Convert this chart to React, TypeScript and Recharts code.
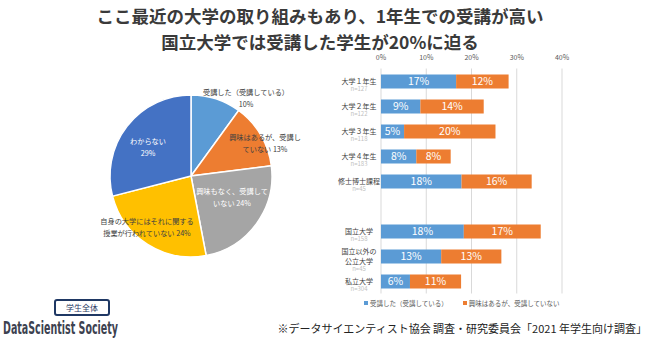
import { Bar, BarChart, CartesianGrid, Cell, LabelList, Pie, PieChart, XAxis, YAxis } from 'recharts';

const FONT = '"Noto Sans CJK JP", "Noto Sans", sans-serif';

// pie: all students
const pieNames = [
  '受講した（受講している）\n',
  '興味はあるが、受講し\nていない ',
  '興味もなく、受講して\nいない ',
  '自身の大学にはそれに関する\n授業が行われていない ',
  'わからない\n',
];
const pieValues = [10, 13, 24, 24, 29];
const pieColors = ['#5B9BD5', '#ED7D31', '#A5A5A5', '#FFC000', '#4472C4'];

// bars: by year / by university type
const barCats = ['大学１年生', '大学２年生', '大学３年生', '大学４年生', '修士博士課程', '', '国立大学', '国立以外の\n公立大学', '私立大学'];
const barN = ['n=127', 'n=122', 'n=118', 'n=183', 'n=45', '', 'n=158', 'n=45', 'n=304'];
const taken = [16.6, 8.7, 5.1, 7.8, 17.8, null, 18.3, 13.3, 6.4];
const interested = [11.6, 14.0, 20.2, 7.6, 15.5, null, 17.0, 13.3, 11.3];
const xTicks = [0, 10, 20, 30, 40];

const pieData = pieNames.map((name, i) => ({ name, value: pieValues[i] }));
const barData = barCats.map((name, i) => ({ name, n: barN[i], taken: taken[i], interested: interested[i] }));

// label offsets from pie center, per slice
const labelPos = [
  { dx: 55, dy: -84, fill: '#404040' },
  { dx: 74, dy: -39, fill: '#404040' },
  { dx: 41, dy: 15, fill: '#ffffff' },
  { dx: -44, dy: 45, fill: '#404040' },
  { dx: -43, dy: -35, fill: '#ffffff' },
];

const PieLabel = (props: any) => {
  const { cx, cy, index } = props;
  const p = labelPos[index];
  const lines = (pieData[index].name + pieData[index].value + '%').split('\n');
  return (
    <text x={cx + p.dx} y={cy + p.dy} fill={p.fill} fontSize={7.2} fontFamily={FONT} textAnchor="middle">
      {lines.map((l, i) => (
        <tspan key={i} x={cx + p.dx} dy={i === 0 ? 3 : 12}>
          {l}
        </tspan>
      ))}
    </text>
  );
};

const CatTick = (props: any) => {
  const { y, payload, index } = props;
  const lines = String(payload.value).split('\n');
  const n = barN[index];
  const cxText = 39; // chart-local x (chart starts at 320)
  const first = lines.length > 1 ? -5 : 0;
  if (!payload.value) return <g />;
  return (
    <g>
      {lines.map((l, i) => (
        <text key={i} x={cxText} y={y + first + i * 10} dy={2.5} fontSize={7} fill="#404040" fontFamily={FONT} textAnchor="middle">
          {l}
        </text>
      ))}
      <text x={cxText} y={y + first + lines.length * 10 - 2} dy={2} fontSize={6} fill="#bfbfbf" fontFamily={FONT} textAnchor="middle">
        {n}
      </text>
    </g>
  );
};

const TopTick = (props: any) => {
  const { x, payload } = props;
  return (
    <text x={x} y={60} fontSize={7} fill="#595959" fontFamily={FONT} textAnchor="middle">
      {payload.value}%
    </text>
  );
};

const fmt = (v: any) => (v == null ? '' : `${Math.round(v)}%`);

const titleStyle = {
  position: 'absolute' as const,
  left: 0,
  width: 640,
  textAlign: 'center' as const,
  fontSize: 17.5,
  fontWeight: 700,
  color: '#3a3a3a',
  lineHeight: '22px',
  height: 22,
};

export default function App() {
  return (
    <div style={{ position: 'relative', width: 650, height: 340, background: '#fff', overflow: 'hidden', fontFamily: FONT }}>
      <style>{'body{margin:0}'}</style>
      <div style={{ ...titleStyle, top: 5 }}>ここ最近の大学の取り組みもあり、1年生での受講が高い</div>
      <div style={{ ...titleStyle, top: 31 }}>国立大学では受講した学生が20%に迫る</div>

      <div style={{ position: 'absolute', left: 0, top: 0 }}>
        <PieChart width={320} height={340}>
          <Pie
            data={pieData}
            dataKey="value"
            nameKey="name"
            cx={186}
            cy={171}
            outerRadius={81}
            startAngle={90}
            endAngle={-270}
            stroke="#ffffff"
            strokeWidth={1.5}
            label={PieLabel}
            labelLine={false}
            isAnimationActive={false}
          >
            {pieData.map((d, i) => (
              <Cell key={d.name} fill={pieColors[i]} />
            ))}
          </Pie>
        </PieChart>
      </div>

      <div style={{ position: 'absolute', left: 320, top: 0 }}>
        <BarChart
          width={330}
          height={340}
          data={barData}
          layout="vertical"
          margin={{ top: 58.5, right: 88, bottom: 46.5, left: 6 }}
          barSize={14}
        >
          <CartesianGrid horizontal={false} stroke="#d9d9d9" />
          <XAxis
            type="number"
            orientation="top"
            domain={[0, 40]}
            ticks={xTicks}
            height={10}
            axisLine={false}
            tickLine={false}
            tick={TopTick}
          />
          <YAxis type="category" dataKey="name" width={55} axisLine={false} tickLine={false} interval={0} tick={CatTick} />
          <Bar dataKey="taken" stackId="a" fill="#5B9BD5" isAnimationActive={false}>
            <LabelList dataKey="taken" position="center" fill="#fff" fontSize={10.5} fontFamily={FONT} formatter={fmt} />
          </Bar>
          <Bar dataKey="interested" stackId="a" fill="#ED7D31" isAnimationActive={false}>
            <LabelList dataKey="interested" position="center" fill="#fff" fontSize={10.5} fontFamily={FONT} formatter={fmt} />
          </Bar>
        </BarChart>
      </div>

      <div style={{ position: 'absolute', top: 298, left: 364, fontSize: 6.5, color: '#595959', display: 'flex', whiteSpace: 'nowrap' }}>
        <span style={{ display: 'flex', alignItems: 'center' }}>
          <span style={{ width: 4, height: 4, background: '#5B9BD5', marginRight: 2 }} />
          受講した（受講している）
        </span>
        <span style={{ display: 'flex', alignItems: 'center', marginLeft: 15 }}>
          <span style={{ width: 4, height: 4, background: '#ED7D31', marginRight: 2 }} />
          興味はあるが、受講していない
        </span>
      </div>

      <div
        style={{
          position: 'absolute',
          left: 54,
          top: 299,
          width: 52,
          height: 13,
          border: '2px solid #1f3864',
          borderRadius: 3,
          fontSize: 8,
          color: '#1f3864',
          textAlign: 'center',
          lineHeight: '13px',
        }}
      >
        学生全体
      </div>
      <svg style={{ position: 'absolute', left: 0, top: 316 }} width={140} height={24}>
        <text
          x={3}
          y={18}
          fontSize={17}
          fontWeight={700}
          fill="#3d4250"
          fontFamily='"Liberation Sans Narrow", "DejaVu Sans Condensed", sans-serif'
          textLength={115}
          lengthAdjust="spacingAndGlyphs"
        >
          DataScientist Society
        </text>
      </svg>

      <div style={{ position: 'absolute', right: 3, top: 320, fontSize: 11, color: '#222', whiteSpace: 'nowrap' }}>
        ※データサイエンティスト協会 調査・研究委員会「2021 年学生向け調査」
      </div>
    </div>
  );
}
